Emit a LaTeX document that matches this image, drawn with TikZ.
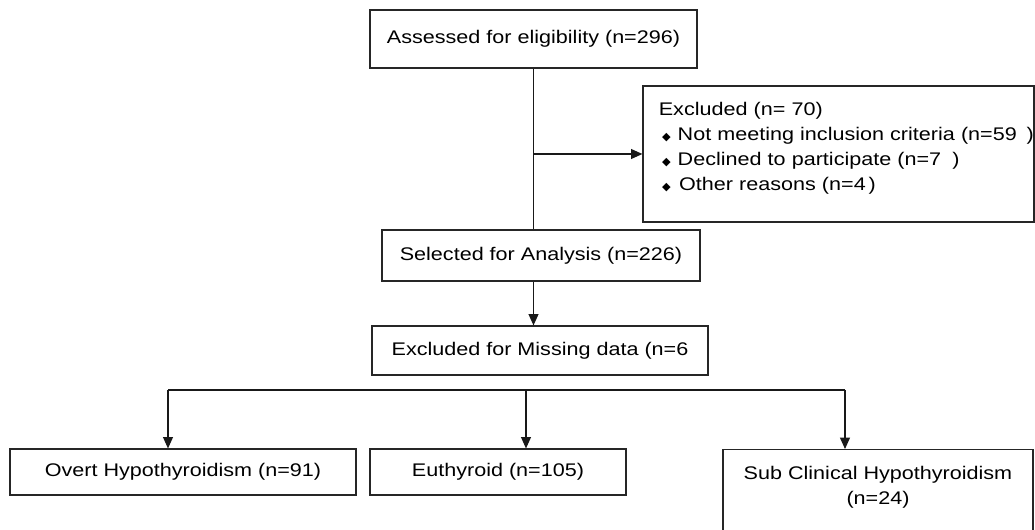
\documentclass[tikz,border=0pt]{standalone}
\usepackage{fontspec}
\setmainfont{Liberation Sans}[FakeStretch=1.18]
\newfontfamily\symfont{DejaVu Sans}
\usetikzlibrary{arrows.meta}
\newcommand{\dmd}{\hspace*{0.24cm}{\symfont\fontsize{8}{8}\selectfont ◆}}

\begin{document}
\begin{tikzpicture}[x=0.025cm, y=-0.025cm,
        every node/.style={draw=black!85, line width=0.8pt, align=center, inner sep=0pt,
          font=\fontsize{13}{17.8}\selectfont},
        flow/.style={draw=black!90, line width=0.8pt},
        arr/.style={flow, -{Triangle[length=8pt, width=7pt]}}
      ]
        \useasboundingbox (0,0) rectangle (1035,530);
        \node[minimum width=8.175cm, minimum height=1.45cm] (assessed) at (533.5,39) {Assessed for eligibility (n=296)};
        \node[minimum width=9.775cm, minimum height=3.4cm, text width=9.3cm, inner xsep=0.2375cm, align=left] (excluded) at (838.5,154)
          {\mbox{\hspace*{0.16cm}Excluded (n= 70)}\\
           \mbox{\dmd\hspace{5pt}Not meeting inclusion criteria (n=59\hspace{7pt})}\\
           \mbox{\dmd\hspace{5pt}Declined to participate (n=7\hspace{8pt})}\\
           \mbox{\dmd\hspace{6pt}Other reasons (n=4\hspace{2pt})\rule[-11pt]{0pt}{11pt}}};
        \node[minimum width=7.95cm, minimum height=1.275cm] (selected) at (541,255.5) {Selected for Analysis (n=226)};
        \node[minimum width=8.4cm, minimum height=1.225cm] (missing) at (540,350.5) {Excluded for Missing data (n=6};
        \node[minimum width=8.65cm, minimum height=1.15cm] (overt) at (183,472) {Overt Hypothyroidism (n=91)};
        \node[minimum width=6.4cm, minimum height=1.15cm] (euthyroid) at (498,472) {Euthyroid (n=105)};
        \node[minimum width=7.75cm, minimum height=2.05cm, anchor=north] (subclin) at (878,449)
          {\rule{0pt}{21pt}Sub Clinical Hypothyroidism\\(n=24)\\[26pt]};

        \coordinate (lt) at (168,390);
        \coordinate (md) at (526,390);
        \coordinate (rt) at (845,390);

        \draw[flow] (assessed.south) -- (assessed.south |- selected.north);
        \draw[arr] (assessed.south |- excluded.west) -- (excluded.west);
        \draw[arr] (assessed.south |- selected.south) -- (assessed.south |- missing.north);
        \draw[flow] (lt) -- (rt);
        \draw[arr] (lt) -- (lt |- overt.north);
        \draw[arr] (md) -- (md |- euthyroid.north);
        \draw[arr] (rt) -- (rt |- subclin.north);
      \end{tikzpicture}
\end{document}
